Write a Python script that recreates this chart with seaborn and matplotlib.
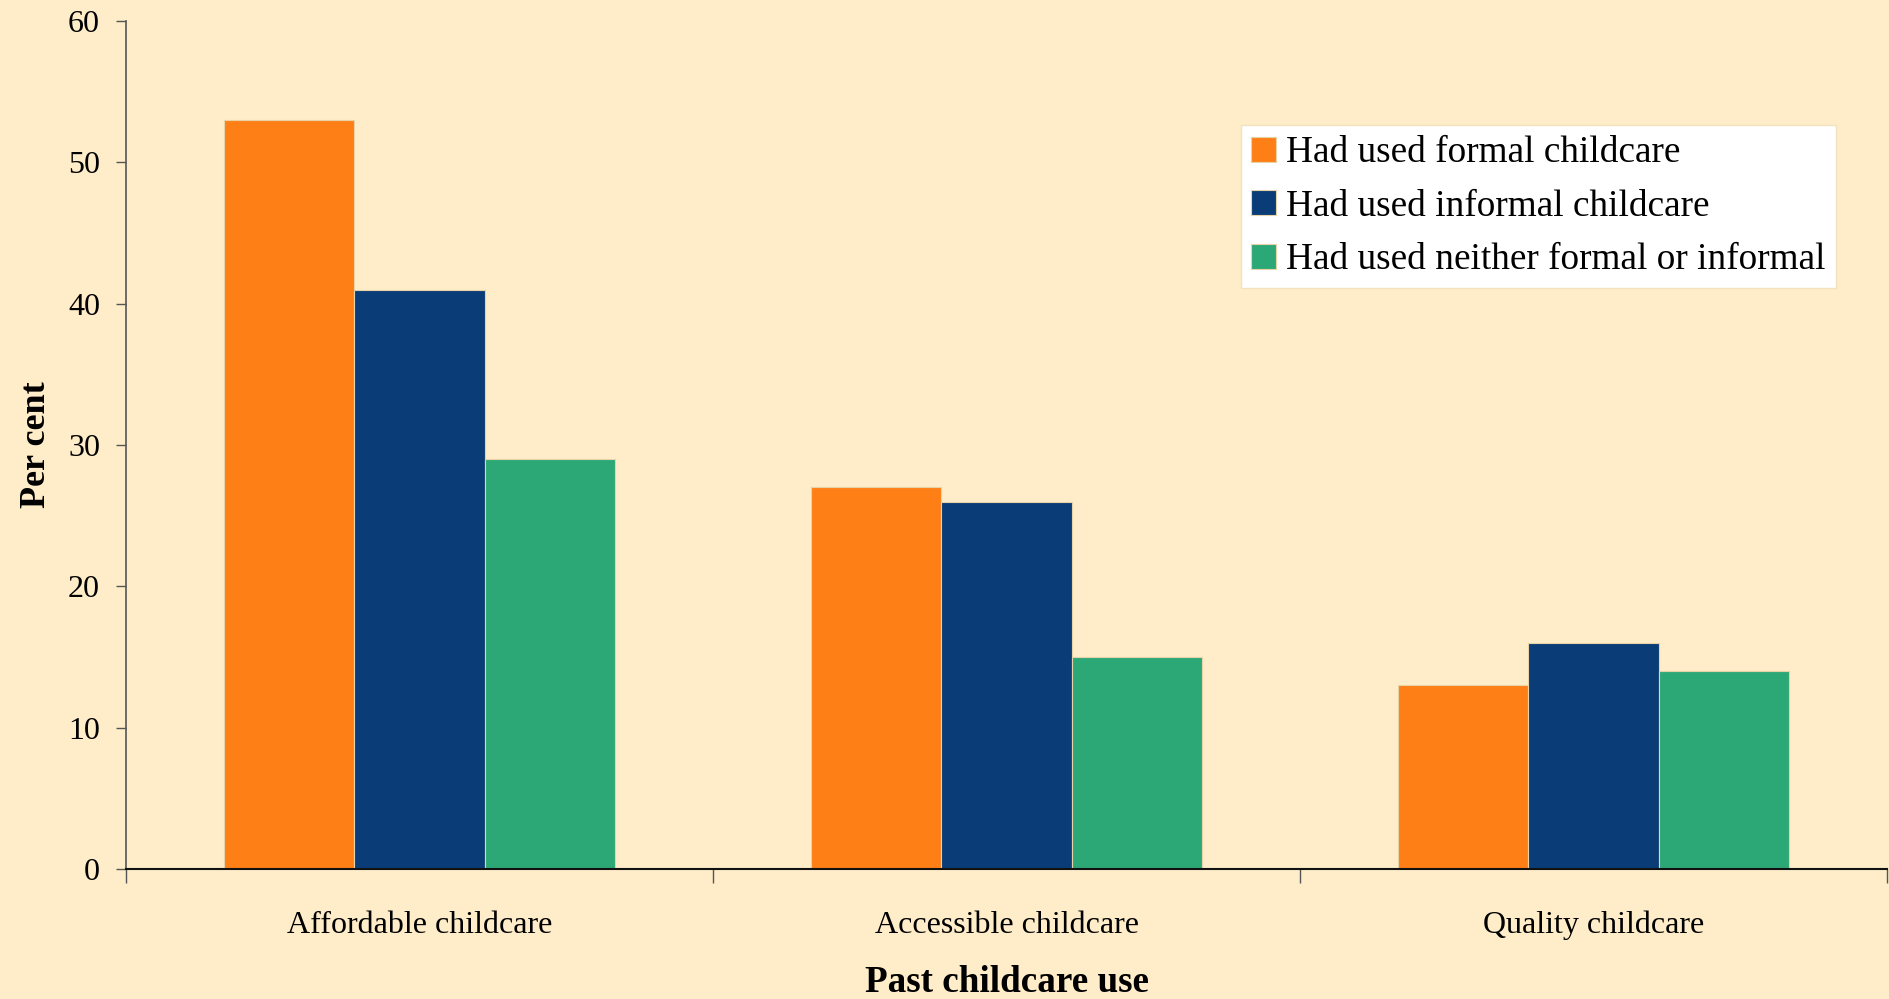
import matplotlib
matplotlib.use("Agg")
import matplotlib.pyplot as plt
from matplotlib.ticker import FixedLocator
import seaborn as sns
import pandas as pd

categories = ["Affordable childcare", "Accessible childcare", "Quality childcare"]
series_names = [
    "Had used formal childcare",
    "Had used informal childcare",
    "Had used neither formal or informal",
]
formal = [53, 27, 13]
informal = [41, 26, 16]
neither = [29, 15, 14]
y_ticks = [0, 10, 20, 30, 40, 50, 60]

colors = ["#FF7F17", "#0A3D78", "#2CA877"]
bg = "#FEEDC8"

rows = []
for name, vals in zip(series_names, [formal, informal, neither]):
    for cat, v in zip(categories, vals):
        rows.append({"category": cat, "series": name, "value": v})
df = pd.DataFrame(rows)

sns.set_theme(style="white")
plt.rcParams["font.family"] = ["Liberation Serif", "DejaVu Serif"]
plt.rcParams["text.color"] = "black"
plt.rcParams["axes.labelcolor"] = "black"
plt.rcParams["xtick.labelcolor"] = "black"
plt.rcParams["ytick.labelcolor"] = "black"

fig = plt.figure(figsize=(18.9, 9.99), dpi=100, facecolor=bg)
ax = fig.add_axes([0.0667, 0.130, 0.9317, 0.849])
ax.set_facecolor(bg)

sns.barplot(
    data=df, x="category", y="value", hue="series",
    order=categories, hue_order=series_names,
    palette=colors, width=0.665, saturation=1,
    edgecolor="#E8D2A8", linewidth=0.8, ax=ax,
)

ax.set_xlim(-0.5, 2.5)
ax.set_ylim(0, 60)
ax.set_yticks(y_ticks)
ax.tick_params(axis="y", which="major", direction="out", length=7.2, width=1,
               color="#555555", labelsize=23, pad=11.5, left=True)
ax.tick_params(axis="x", which="major", length=0, labelsize=23, pad=30)
ax.xaxis.set_minor_locator(FixedLocator([-0.5, 0.5, 1.5, 2.5]))
ax.tick_params(axis="x", which="minor", direction="out", length=10, width=1,
               color="#555555", bottom=True)

for side in ["top", "right"]:
    ax.spines[side].set_visible(False)
ax.spines["left"].set_color("#555555")
ax.spines["left"].set_linewidth(1.2)
ax.spines["bottom"].set_color("#111111")
ax.spines["bottom"].set_linewidth(1.5)

ax.set_ylabel("Per cent", fontsize=26, fontweight="bold", labelpad=11)
ax.set_xlabel("Past childcare use", fontsize=26.7, fontweight="bold", labelpad=18)

leg = ax.legend(
    loc="upper right", bbox_to_anchor=(0.971, 0.877),
    fontsize=26.8, frameon=True, fancybox=False, framealpha=1,
    handlelength=0.65, handleheight=0.65, handletextpad=0.28,
    labelspacing=0.51, borderpad=0.28, borderaxespad=0, title=None,
)
leg.get_frame().set_facecolor("white")
leg.get_frame().set_edgecolor("#F2E2C0")
leg.get_frame().set_linewidth(1)

fig.savefig("out.png", dpi=100, facecolor=bg)
